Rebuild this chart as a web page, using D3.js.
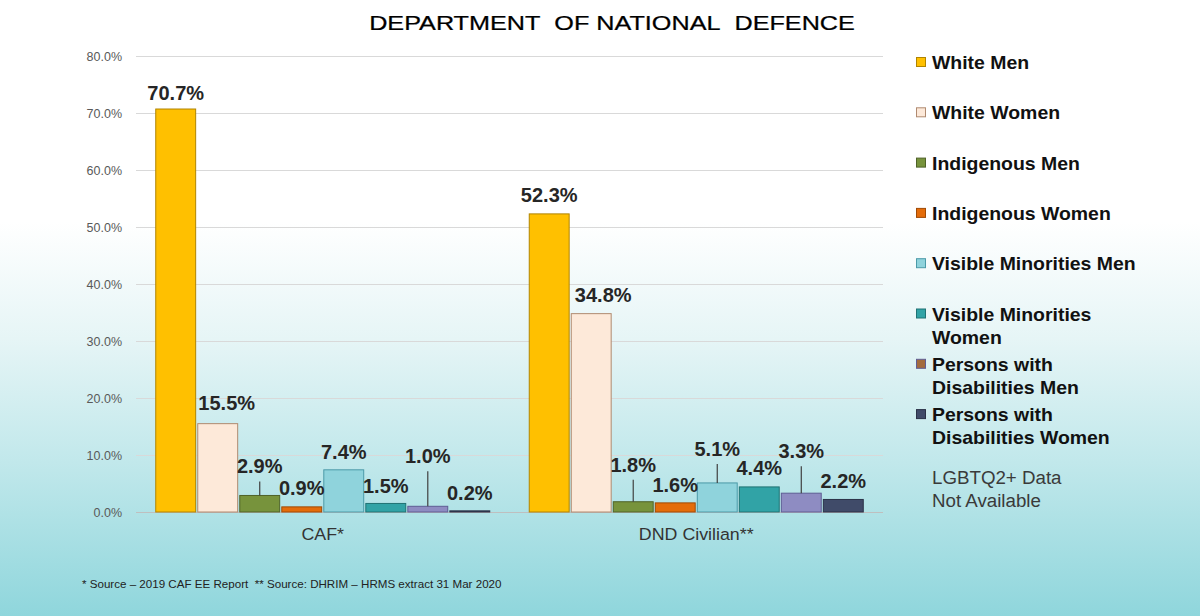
<!DOCTYPE html>
<html>
<head>
<meta charset="utf-8">
<script src="https://cdn.jsdelivr.net/npm/d3@7"></script>
<style>
  body { margin: 0; }
  text { font-family: "Liberation Sans", Arial, sans-serif; }
</style>
</head>
<body>
<script>
// data
var categories = ["CAF*", "DND Civilian**"];
var seriesNames = ["White Men", "White Women", "Indigenous Men", "Indigenous Women",
    "Visible Minorities Men", "Visible Minorities Women",
    "Persons with Disabilities Men", "Persons with Disabilities Women"];
var cafValues = [70.7, 15.5, 2.9, 0.9, 7.4, 1.5, 1.0, 0.2];
var dndValues = [52.3, 34.8, 1.8, 1.6, 5.1, 4.4, 3.3, 2.2];
var yTicks = [0, 10, 20, 30, 40, 50, 60, 70, 80];
var legendLines = [["White Men"], ["White Women"], ["Indigenous Men"], ["Indigenous Women"],
    ["Visible Minorities Men"], ["Visible Minorities", "Women"],
    ["Persons with", "Disabilities Men"], ["Persons with", "Disabilities Women"]];
var noteLines = ["LGBTQ2+ Data", "Not Available"];
var title = "DEPARTMENT\u00a0\u00a0OF NATIONAL\u00a0\u00a0DEFENCE";
var footnote = "* Source \u2013 2019 CAF EE Report  ** Source: DHRIM \u2013 HRMS extract 31 Mar 2020";

// styles
var barColors = ["#ffc000", "#fde9d9", "#77933c", "#e46c0a", "#8fd3dc", "#31a3a6", "#8e8cc2", "#404b69"];
var legendColors = ["#ffc000", "#fde9d9", "#77933c", "#e46c0a", "#8fd3dc", "#31a3a6", "#a36b3e", "#404b69"];
var strokeColors = ["#b08400", "#b08a70", "#4f6228", "#a04a05", "#4b9aa8", "#1f7274", "#5f5d94", "#2a3147"];
// label placement: gap above bar top, horizontal nudge
var labelLift = [[9, 14, 22, 12, 11, 10, 43, 11], [12, 12, 30, 11, 27, 12, 35, 11]];
var labelShift = [[0, 9, 0, 0, 0, 0, 0, 0], [0, 12, 0, 0, 0, 0, 0, 0]];

var width = 1200, height = 616;
var svg = d3.select("body").append("svg")
    .attr("width", width)
    .attr("height", height);

var grad = svg.append("defs").append("linearGradient")
    .attr("id", "bg").attr("x1", 0).attr("y1", 0).attr("x2", 0).attr("y2", 1);
grad.append("stop").attr("offset", "0.36").attr("stop-color", "#ffffff");
grad.append("stop").attr("offset", "0.55").attr("stop-color", "#e6f5f6");
grad.append("stop").attr("offset", "0.75").attr("stop-color", "#c1e8eb");
grad.append("stop").attr("offset", "1").attr("stop-color", "#8fd6dc");
svg.append("rect").attr("width", width).attr("height", height).attr("fill", "url(#bg)");

var x0 = d3.scaleBand().domain(categories).range([136, 883]).padding(0);
var x1 = d3.scaleBand().domain(d3.range(seriesNames.length))
    .range([0, x0.bandwidth()]).paddingInner(0.05).paddingOuter(0.47);
var y = d3.scaleLinear().domain([0, 80]).range([512, 56]);

// gridlines
svg.append("g").selectAll("line")
    .data(yTicks)
    .enter().append("line")
    .attr("x1", 136).attr("x2", 883)
    .attr("y1", function(d) { return Math.round(y(d)) + 0.5; })
    .attr("y2", function(d) { return Math.round(y(d)) + 0.5; })
    .attr("stroke", function(d) { return d == 0 ? "#bfbfbf" : "#d9d9d9"; })
    .attr("stroke-width", 1);

// y axis labels
var yAxis = svg.append("g")
    .attr("transform", "translate(136,0)")
    .call(d3.axisLeft(y).tickValues(yTicks).tickSize(0).tickPadding(14)
        .tickFormat(function(d) { return d.toFixed(1) + "%"; }));
yAxis.select(".domain").remove();
yAxis.selectAll("text")
    .style("font-family", "'Liberation Sans', Arial, sans-serif")
    .style("font-size", "12.5px")
    .attr("fill", "#595959");

// x axis labels
var xAxis = svg.append("g")
    .attr("transform", "translate(0,512)")
    .call(d3.axisBottom(x0).tickSize(0).tickPadding(0));
xAxis.select(".domain").remove();
xAxis.selectAll("text").remove();
categories.forEach(function(c) {
    svg.append("text")
        .attr("transform", "translate(" + (x0(c) + x0.bandwidth() / 2) + ",540) scale(1.08,1)")
        .attr("text-anchor", "middle")
        .style("font-size", "16.5px")
        .attr("fill", "#333333")
        .text(c);
});

var groups = [cafValues, dndValues];
groups.forEach(function(vals, g) {
    var gx = x0(categories[g]);
    var grp = svg.append("g");
    grp.selectAll("rect")
        .data(vals)
        .enter().append("rect")
        .attr("x", function(d, i) { return gx + x1(i); })
        .attr("y", function(d) { return y(d); })
        .attr("width", x1.bandwidth())
        .attr("height", function(d) { return y(0) - y(d); })
        .attr("fill", function(d, i) { return barColors[i]; })
        .attr("stroke", function(d, i) { return strokeColors[i]; })
        .attr("stroke-width", 1);

    vals.forEach(function(d, i) {
        var cx = gx + x1(i) + x1.bandwidth() / 2;
        var base = y(d) - labelLift[g][i];
        if (labelLift[g][i] > 20) {
            grp.append("line")
                .attr("x1", cx).attr("x2", cx)
                .attr("y1", base + 8).attr("y2", y(d))
                .attr("stroke", "#404040").attr("stroke-width", 1.2);
        }
        grp.append("text")
            .attr("x", cx + labelShift[g][i])
            .attr("y", base)
            .attr("text-anchor", "middle")
            .style("font-size", "20px")
            .style("font-weight", "bold")
            .attr("fill", "#262626")
            .text(d.toFixed(1) + "%");
    });
});

// title
svg.append("text")
    .attr("transform", "translate(612,30) scale(1.2,1)")
    .attr("text-anchor", "middle")
    .style("font-size", "21px")
    .attr("fill", "#000000")
    .attr("stroke", "#000000").attr("stroke-width", 0.25)
    .text(title);

// legend
var legend = svg.append("g");
legendLines.forEach(function(lines, i) {
    var ly = 69 + i * 50.3;
    legend.append("rect")
        .attr("x", 916.5).attr("y", ly - 11.5)
        .attr("width", 9).attr("height", 9)
        .attr("fill", legendColors[i])
        .attr("stroke", strokeColors[i]).attr("stroke-width", 1);
    lines.forEach(function(t, k) {
        legend.append("text")
            .attr("transform", "translate(932," + (ly + k * 23) + ") scale(1.08,1)")
            .style("font-size", "18px")
            .style("font-weight", "bold")
            .attr("fill", "#111111")
            .text(t);
    });
});
noteLines.forEach(function(t, k) {
    legend.append("text")
        .attr("transform", "translate(932," + (484 + k * 23) + ") scale(1.04,1)")
        .style("font-size", "18px")
        .attr("fill", "#3a3a3a")
        .text(t);
});

// footnote
svg.append("text")
    .attr("x", 82).attr("y", 588)
    .style("font-size", "11.6px")
    .attr("fill", "#222222")
    .style("white-space", "pre")
    .text(footnote);
</script>
</body>
</html>
